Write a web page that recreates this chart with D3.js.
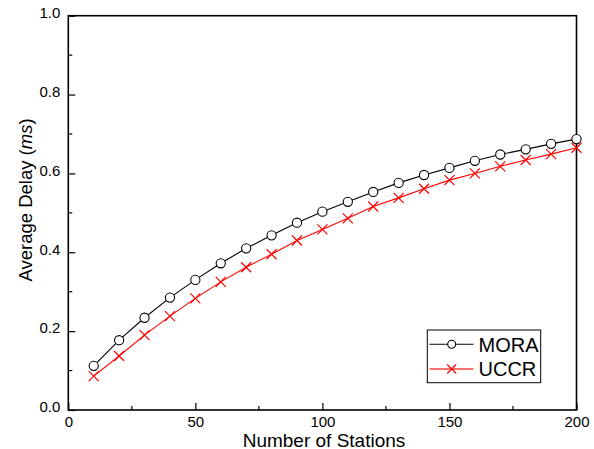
<!DOCTYPE html>
<meta charset="utf-8">
<style>
  body { margin: 0; background: #fff; }
  text { font-family: Arial, "Liberation Sans", sans-serif; fill: #000; }
  .axis path, .axis line { stroke: #000; }
</style>
<svg width="594" height="449"></svg>
<script src="https://d3js.org/d3.v7.min.js"></script>
<script>
  // data
  var stations = [10, 20, 30, 40, 50, 60, 70, 80, 90, 100, 110, 120, 130, 140, 150, 160, 170, 180, 190, 200];
  var mora = [0.112, 0.177, 0.234, 0.285, 0.330, 0.372, 0.410, 0.443, 0.475, 0.503, 0.528, 0.553, 0.576, 0.596, 0.614, 0.632, 0.648, 0.661, 0.675, 0.687];
  var uccr = [0.086, 0.137, 0.190, 0.238, 0.283, 0.325, 0.362, 0.395, 0.430, 0.458, 0.486, 0.516, 0.538, 0.561, 0.583, 0.600, 0.618, 0.634, 0.649, 0.665];
  var xTicks = [0, 50, 100, 150, 200];
  var yTicks = [0, 0.2, 0.4, 0.6, 0.8, 1.0];

  var svg = d3.select("svg");
  // plot box (note: "top" is reserved on window, so use other names)
  var pL = 68.3, pR = 576.5, pT = 15.7, pB = 410;

  var x = d3.scaleLinear().domain([0, 200]).range([pL, pR]);
  var y = d3.scaleLinear().domain([0, 1]).range([pB, pT]);

  // frame
  svg.append("rect")
    .attr("x", pL).attr("y", pT)
    .attr("width", pR - pL).attr("height", pB - pT)
    .attr("fill", "none").attr("stroke", "#000").attr("stroke-width", 1.6);

  // minor ticks (inward)
  var xMinor = d3.range(25, 200, 50);
  var yMinor = d3.range(0.1, 1, 0.2);
  svg.append("g").selectAll("line").data(xMinor).enter().append("line")
    .attr("x1", function(d) { return x(d); }).attr("x2", function(d) { return x(d); })
    .attr("y1", pB).attr("y2", pB - 4)
    .attr("stroke", "#000").attr("stroke-width", 1.2);
  svg.append("g").selectAll("line").data(yMinor).enter().append("line")
    .attr("y1", function(d) { return y(d); }).attr("y2", function(d) { return y(d); })
    .attr("x1", pL).attr("x2", pL + 4)
    .attr("stroke", "#000").attr("stroke-width", 1.2);

  // major axes
  svg.append("g").attr("class", "axis")
    .attr("transform", "translate(0," + pB + ")")
    .call(d3.axisBottom(x).tickValues(xTicks).tickSizeInner(-7).tickSizeOuter(0).tickPadding(6.5));
  var yAx = svg.append("g").attr("class", "axis")
    .attr("transform", "translate(" + pL + ",0)")
    .call(d3.axisLeft(y).tickValues(yTicks).tickFormat(d3.format(".1f")).tickSizeInner(-7).tickSizeOuter(0).tickPadding(8));
  yAx.selectAll("text").attr("dy", "0.12em");
  svg.selectAll(".axis .domain").remove();
  svg.selectAll(".axis line").attr("stroke-width", 1.2);
  svg.selectAll(".axis text").style("font-size", "15px").attr("fill", "#000");

  // axis titles
  svg.append("text")
    .attr("x", 324).attr("y", 446.5)
    .attr("text-anchor", "middle")
    .style("font-size", "19px")
    .text("Number of Stations");

  var yt = svg.append("text")
    .attr("transform", "translate(31.5,200) rotate(-90)")
    .attr("text-anchor", "middle")
    .style("font-size", "18.5px");
  yt.append("tspan").text("Average Delay (");
  yt.append("tspan").style("font-style", "italic").text("ms");
  yt.append("tspan").text(")");

  var line = d3.line()
    .x(function(d) { return x(d[0]); })
    .y(function(d) { return y(d[1]); });

  var moraPts = stations.map(function(s, i) { return [s, mora[i]]; });
  var uccrPts = stations.map(function(s, i) { return [s, uccr[i]]; });

  var plot = svg.append("g");

  plot.append("path").datum(uccrPts)
    .attr("d", line).attr("fill", "none")
    .attr("stroke", "#ff0000").attr("stroke-width", 1.1);
  plot.append("path").datum(moraPts)
    .attr("d", line).attr("fill", "none")
    .attr("stroke", "#000").attr("stroke-width", 1.1);

  function cross(g, cx, cy, r, color, w) {
    g.append("path")
      .attr("d", "M" + (cx - r) + "," + (cy - r) + "L" + (cx + r) + "," + (cy + r) +
        "M" + (cx - r) + "," + (cy + r) + "L" + (cx + r) + "," + (cy - r))
      .attr("stroke", color).attr("stroke-width", w).attr("fill", "none");
  }

  uccrPts.forEach(function(d) {
    cross(plot, x(d[0]), y(d[1]), 5, "#ff0000", 1.2);
  });

  plot.selectAll("circle.mora").data(moraPts).enter().append("circle")
    .attr("class", "mora")
    .attr("cx", function(d) { return x(d[0]); })
    .attr("cy", function(d) { return y(d[1]); })
    .attr("r", 4.6)
    .attr("fill", "#fff").attr("stroke", "#000").attr("stroke-width", 1.1);

  // legend
  var lg = svg.append("g");
  lg.append("rect")
    .attr("x", 427.3).attr("y", 330).attr("width", 113.4).attr("height", 52.7)
    .attr("fill", "#fff").attr("stroke", "#000").attr("stroke-width", 1);
  lg.append("line").attr("x1", 429.5).attr("x2", 473.5).attr("y1", 344.3).attr("y2", 344.3)
    .attr("stroke", "#000").attr("stroke-width", 1.1);
  lg.append("circle").attr("cx", 451.7).attr("cy", 344.3).attr("r", 4)
    .attr("fill", "#fff").attr("stroke", "#000").attr("stroke-width", 1.1);
  lg.append("line").attr("x1", 429.5).attr("x2", 473.5).attr("y1", 369).attr("y2", 369)
    .attr("stroke", "#ff7070").attr("stroke-width", 2);
  cross(lg, 451.7, 369, 4.5, "#ff0000", 1.2);
  lg.append("text").attr("x", 478.5).attr("y", 351.5).style("font-size", "20px").text("MORA");
  lg.append("text").attr("x", 478.5).attr("y", 376.3).style("font-size", "20px").text("UCCR");
</script>
